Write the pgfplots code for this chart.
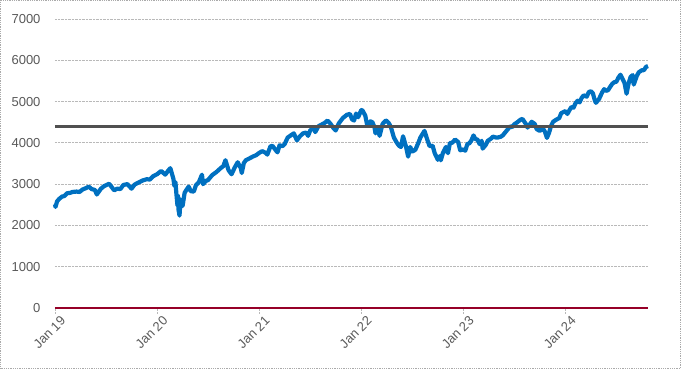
\documentclass[border=0pt]{standalone}
\usepackage{fontspec}
\setmainfont{Liberation Sans}
\usepackage{pgfplots}
\pgfplotsset{compat=1.18}
\definecolor{spblue}{RGB}{0,112,192}
\definecolor{hline}{RGB}{80,80,80}
\definecolor{zline}{RGB}{150,0,40}
\definecolor{lbl}{RGB}{89,89,89}
\definecolor{grd}{RGB}{185,185,185}
\begin{document}
\begin{tikzpicture}
\useasboundingbox (0,0) rectangle (681pt,369pt);
\draw[densely dotted, color={rgb,255:red,170;green,170;blue,170}, line width=0.8pt] (0.5pt,0.5pt) rectangle (680.5pt,368.5pt);
\begin{axis}[
  at={(55pt,61pt)}, anchor=south west,
  scale only axis, width=593pt, height=289pt,
  xmin=2019, xmax=2024.81, ymin=0, ymax=7000,
  clip=false,
  axis line style={draw=none},
  ytick={0,1000,...,7000},
  xtick={2019,2020,2021,2022,2023,2024},
  xticklabels={Jan 19,Jan 20,Jan 21,Jan 22,Jan 23,Jan 24},
  xtick pos=bottom, ytick pos=left,
  tick align=outside, major tick length=5pt,
  xtick style={draw=grd, densely dotted, line width=0.8pt},
  ytick style={draw=none},
  ymajorgrids, grid style={densely dotted, draw=grd, line width=0.8pt},
  tick label style={font=\fontsize{13}{15}\selectfont, text=lbl},
  /pgf/number format/assume math mode=true,
  /pgf/number format/1000 sep={},
  yticklabel style={xshift=-6pt},
  xticklabel style={rotate=45, anchor=north east, inner sep=1pt, yshift=-4pt, xshift=3pt},
]
\addplot[spblue, line width=4.2pt, line join=round] coordinates {
(2019.000,2510) (2019.005,2448) (2019.02,2580) (2019.04,2640) (2019.07,2700) (2019.09,2710)
(2019.12,2780) (2019.15,2790) (2019.17,2810) (2019.21,2820) (2019.24,2810) (2019.27,2870)
(2019.30,2900) (2019.33,2940) (2019.36,2880) (2019.39,2860) (2019.41,2750) (2019.45,2890)
(2019.48,2950) (2019.53,3010) (2019.58,2850) (2019.61,2890) (2019.64,2880) (2019.67,2980)
(2019.71,3000) (2019.75,2890) (2019.78,2990) (2019.82,3040) (2019.86,3090) (2019.90,3120)
(2019.93,3110) (2019.96,3190) (2020.00,3240)
(2020.04,3320) (2020.08,3230) (2020.11,3330) (2020.13,3386) (2020.16,3130) (2020.17,2954)
(2020.18,3050) (2020.19,2746) (2020.20,2480) (2020.205,2711) (2020.21,2386) (2020.22,2237)
(2020.23,2630) (2020.25,2470) (2020.27,2790) (2020.29,2870) (2020.31,2940) (2020.33,2830)
(2020.36,2820) (2020.38,2970) (2020.41,3050) (2020.44,3230) (2020.45,3000) (2020.48,3080)
(2020.50,3100) (2020.54,3220) (2020.58,3290) (2020.62,3380) (2020.65,3440) (2020.67,3580)
(2020.70,3340) (2020.73,3240) (2020.76,3400) (2020.79,3530) (2020.82,3390) (2020.83,3270)
(2020.85,3510) (2020.87,3580) (2020.91,3630) (2020.94,3670) (2020.97,3700) (2021.00,3756)
(2021.03,3800) (2021.07,3750) (2021.08,3714) (2021.11,3910) (2021.13,3930) (2021.16,3830)
(2021.18,3770) (2021.20,3940) (2021.23,3920) (2021.25,3970) (2021.28,4130) (2021.31,4180)
(2021.34,4230) (2021.37,4060) (2021.40,4160) (2021.43,4230) (2021.46,4250) (2021.48,4170)
(2021.50,4300) (2021.54,4370) (2021.55,4260) (2021.58,4400) (2021.61,4440) (2021.64,4480)
(2021.67,4540) (2021.70,4460) (2021.73,4350) (2021.75,4300) (2021.78,4470) (2021.82,4600)
(2021.86,4680) (2021.89,4700) (2021.91,4570) (2021.93,4540) (2021.95,4710) (2021.97,4620)
(2022.00,4790)
(2022.01,4796) (2022.04,4660) (2022.06,4410) (2022.08,4430) (2022.09,4520) (2022.11,4500)
(2022.13,4380) (2022.14,4230) (2022.16,4380) (2022.18,4170) (2022.21,4460) (2022.24,4540)
(2022.25,4530) (2022.27,4480) (2022.29,4390) (2022.32,4130) (2022.35,4000) (2022.37,3930)
(2022.39,3900) (2022.41,4160) (2022.44,3900) (2022.46,3666) (2022.48,3900) (2022.50,3790)
(2022.53,3830) (2022.56,4000) (2022.58,4130) (2022.62,4290) (2022.65,4060) (2022.67,3920)
(2022.70,3930) (2022.72,3750) (2022.74,3650) (2022.75,3590) (2022.77,3680) (2022.78,3577)
(2022.80,3750) (2022.83,3900) (2022.85,3750) (2022.87,4000) (2022.89,4000) (2022.92,4080)
(2022.95,4020) (2022.97,3820) (2023.00,3840)
(2023.02,3810) (2023.04,3970) (2023.06,3990) (2023.08,4060) (2023.10,4180) (2023.12,4090)
(2023.14,4080) (2023.16,3970) (2023.18,4050) (2023.19,3860) (2023.22,3950) (2023.24,4050)
(2023.27,4100) (2023.29,4150) (2023.32,4130) (2023.34,4130) (2023.37,4150) (2023.39,4190)
(2023.42,4280) (2023.44,4340) (2023.46,4400) (2023.48,4380) (2023.50,4450) (2023.53,4500)
(2023.56,4560) (2023.58,4580) (2023.61,4470) (2023.63,4370) (2023.65,4440) (2023.67,4510)
(2023.70,4460) (2023.72,4330) (2023.75,4290) (2023.78,4350) (2023.80,4270) (2023.82,4120)
(2023.84,4240) (2023.86,4410) (2023.88,4510) (2023.91,4560) (2023.94,4600) (2023.96,4720)
(2024.00,4770)
(2024.02,4700) (2024.04,4790) (2024.06,4870) (2024.08,4850) (2024.10,4960) (2024.12,5020)
(2024.14,4980) (2024.16,5090) (2024.18,5150) (2024.21,5120) (2024.23,5230) (2024.25,5250)
(2024.27,5200) (2024.29,5020) (2024.30,4970) (2024.33,5060) (2024.36,5220) (2024.38,5300)
(2024.40,5260) (2024.42,5280) (2024.44,5360) (2024.46,5430) (2024.48,5470) (2024.50,5480)
(2024.52,5580) (2024.54,5650) (2024.56,5550) (2024.58,5450) (2024.60,5190) (2024.62,5440)
(2024.64,5600) (2024.66,5640) (2024.67,5410) (2024.70,5620) (2024.72,5710) (2024.75,5760)
(2024.77,5760) (2024.79,5840) (2024.81,5860)
};
\addplot[hline, line width=2.8pt] coordinates {(2019,4400) (2024.81,4400)};
\addplot[zline, line width=2.6pt] coordinates {(2019,0) (2024.81,0)};
\end{axis}
\end{tikzpicture}
\end{document}
